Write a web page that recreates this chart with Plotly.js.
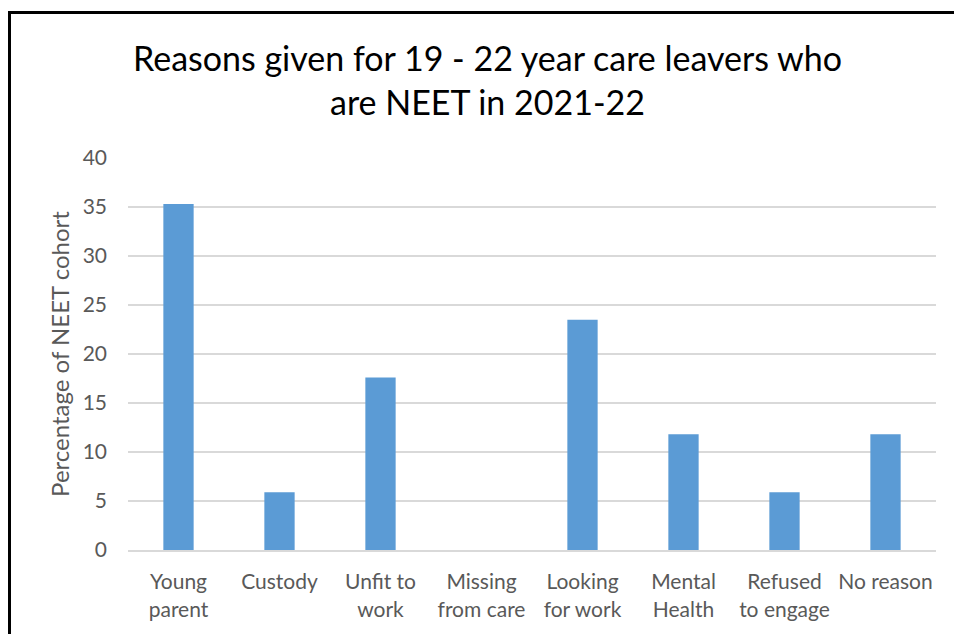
<!DOCTYPE html>
<html>
<head>
<meta charset="utf-8">
<script src="https://cdn.plot.ly/plotly-3.0.1.min.js"></script>
<style>
html,body{margin:0;padding:0;background:#fff;}
#wrap{position:relative;width:954px;height:634px;overflow:hidden;}
#chart{width:954px;height:634px;}
#frame{position:absolute;left:8px;top:11px;width:1000px;height:700px;border-top:3px solid #000;border-left:3px solid #000;pointer-events:none;}
</style>
</head>
<body>
<div id="wrap"><div id="chart"></div><div id="frame"></div></div>
<script>
const categories = ["Young<br>parent","Custody","Unfit to<br>work","Missing<br>from care","Looking<br>for work","Mental<br>Health","Refused<br>to engage","No reason"];
const percentages = [35.3, 5.9, 17.6, 0, 23.5, 11.8, 5.9, 11.8];
const yTicks = [0,5,10,15,20,25,30,35,40];

const font = "Lato, Carlito, Calibri, sans-serif";

Plotly.newPlot('chart', [{
  type: 'bar',
  x: categories,
  y: percentages,
  marker: {color: '#5b9bd5'},
  hoverinfo: 'x+y'
}], {
  width: 954, height: 634,
  margin: {l: 128, r: 18, t: 158, b: 84},
  paper_bgcolor: '#fff', plot_bgcolor: '#fff',
  bargap: 0.7,
  showlegend: false,
  title: {
    text: 'Reasons given for 19 - 22 year care leavers who<br>are NEET in 2021-22',
    font: {family: font, size: 34, color: '#000'},
    x: 0.511, xanchor: 'center', y: 0.888, yanchor: 'middle'
  },
  xaxis: {
    tickfont: {family: font, size: 21, color: '#595959'},
    showline: true, linecolor: '#d9d9d9', linewidth: 2,
    ticks: 'outside', ticklen: 12, tickcolor: 'rgba(0,0,0,0)', showgrid: false, fixedrange: true
  },
  yaxis: {
    range: [0, 40], tickvals: yTicks,
    tickfont: {family: font, size: 21, color: '#595959'},
    showgrid: true, gridcolor: '#d9d9d9', gridwidth: 2,
    zeroline: false, showline: false, ticks: '', ticklen: 0,
    ticklabelstandoff: 20,
    title: {text: 'Percentage of NEET cohort', font: {family: font, size: 24, color: '#595959'}, standoff: 6},
    fixedrange: true
  }
}, {displayModeBar: false, staticPlot: true});
</script>
</body>
</html>
